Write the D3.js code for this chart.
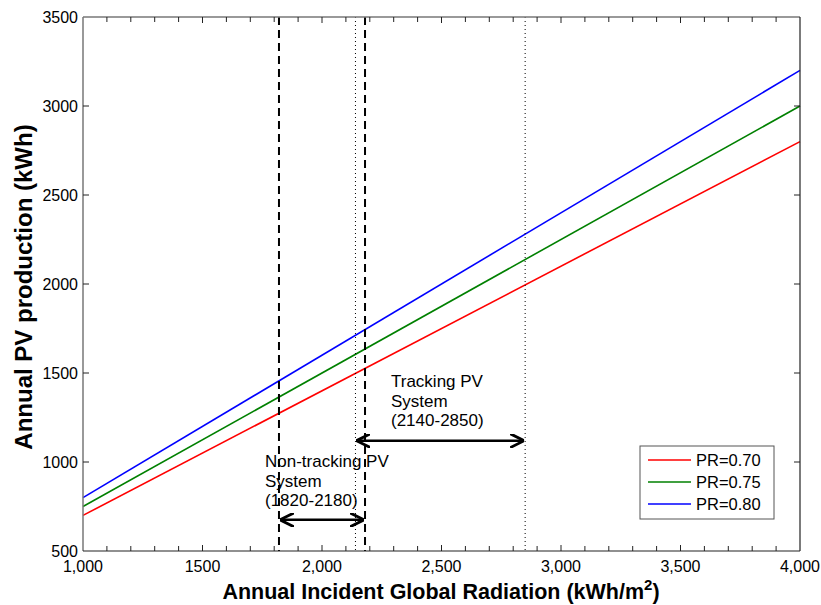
<!DOCTYPE html>
<html>
<head>
<meta charset="utf-8">
<script src="https://cdn.jsdelivr.net/npm/d3@7"></script>
<style>
  body { margin: 0; background: #fff; }
  svg { font-family: "Liberation Sans", Arial, sans-serif; }
</style>
</head>
<body>
<svg id="chart" width="821" height="605"></svg>
<script>
// Annual PV production vs. annual incident global radiation
const radiation = [1000, 4000];
const performanceRatios = [0.70, 0.75, 0.80];
const seriesLabels = ["PR=0.70", "PR=0.75", "PR=0.80"];
const seriesColors = ["#ff0000", "#008000", "#0000ff"];
const xTickValues = [1000, 1500, 2000, 2500, 3000, 3500, 4000];
const xTickLabels = ["1,000", "1500", "2,000", "2,500", "3,000", "3,500", "4,000"];
const yTickValues = [500, 1000, 1500, 2000, 2500, 3000, 3500];
const nonTrackingRange = [1820, 2180];
const trackingRange = [2140, 2850];
const nonTrackingText = ["Non-tracking PV", "System", "(1820-2180)"];
const trackingText = ["Tracking PV", "System", "(2140-2850)"];
const nonTrackingArrowY = 675;
const trackingArrowY = 1120;

const svg = d3.select("#chart");
const m = { left: 83, right: 800, top: 17, bottom: 551 };

const x = d3.scaleLinear().domain([1000, 4000]).range([m.left, m.right]);
const y = d3.scaleLinear().domain([500, 3500]).range([m.bottom, m.top]);

const defs = svg.append("defs");
defs.append("marker").attr("id", "arrow").attr("viewBox", "0 0 10 10")
  .attr("refX", 10).attr("refY", 5)
  .attr("markerUnits", "userSpaceOnUse").attr("orient", "auto-start-reverse")
  .attr("markerWidth", 14).attr("markerHeight", 14)
  .append("path").attr("d", "M0,0 L10,5 L0,10").attr("fill", "none")
  .attr("stroke", "#000").attr("stroke-width", 2);

// data lines
const line = d3.line().x(d => x(d[0])).y(d => y(d[1]));
performanceRatios.forEach((pr, i) => {
  svg.append("path")
    .datum(radiation.map(r => [r, r * pr]))
    .attr("d", line)
    .attr("fill", "none")
    .attr("stroke", seriesColors[i])
    .attr("stroke-width", 1.6);
});

// range boundaries
nonTrackingRange.forEach(v => {
  svg.append("line").attr("x1", x(v)).attr("x2", x(v)).attr("y1", m.top).attr("y2", m.bottom)
    .attr("stroke", "#000").attr("stroke-width", 2).attr("stroke-dasharray", "8,5");
});
trackingRange.forEach(v => {
  svg.append("line").attr("x1", x(v)).attr("x2", x(v)).attr("y1", m.top).attr("y2", m.bottom)
    .attr("stroke", "#000").attr("stroke-width", 1).attr("stroke-dasharray", "1,3");
});

// double-headed arrows
function arrow(range, yv) {
  svg.append("line")
    .attr("x1", x(range[0]) + 1).attr("x2", x(range[1]) - 1)
    .attr("y1", y(yv)).attr("y2", y(yv))
    .attr("stroke", "#000").attr("stroke-width", 2.5)
    .attr("marker-start", "url(#arrow)").attr("marker-end", "url(#arrow)");
}
arrow(nonTrackingRange, nonTrackingArrowY);
arrow(trackingRange, trackingArrowY);

// annotations
function block(lines, x0, y0) {
  const t = svg.append("text").attr("x", x0).attr("y", y0).attr("font-size", 17).attr("fill", "#000");
  lines.forEach((s, i) => t.append("tspan").attr("x", x0).attr("dy", i ? 19.5 : 0).text(s));
}
block(trackingText, 391, 387);
block(nonTrackingText, 265, 467);

// axes frame
svg.append("line").attr("x1", m.left).attr("x2", m.right).attr("y1", m.top).attr("y2", m.top).attr("stroke", "#777").attr("stroke-width", 1.5);
svg.append("line").attr("x1", m.left).attr("x2", m.left).attr("y1", m.top).attr("y2", m.bottom).attr("stroke", "#777").attr("stroke-width", 1.5);
svg.append("line").attr("x1", m.right).attr("x2", m.right).attr("y1", m.top).attr("y2", m.bottom).attr("stroke", "#222").attr("stroke-width", 1.2);
svg.append("line").attr("x1", m.left).attr("x2", m.right).attr("y1", m.bottom).attr("y2", m.bottom).attr("stroke", "#222").attr("stroke-width", 1.2);

const minor = d3.range(1100, 4000, 100);
minor.forEach(v => {
  const len = xTickValues.includes(v) ? 6 : 5;
  svg.append("line").attr("x1", x(v)).attr("x2", x(v)).attr("y1", m.bottom).attr("y2", m.bottom - len).attr("stroke", "#222");
  svg.append("line").attr("x1", x(v)).attr("x2", x(v)).attr("y1", m.top).attr("y2", m.top + len).attr("stroke", "#222");
});
yTickValues.slice(1, -1).forEach(v => {
  svg.append("line").attr("x1", m.left).attr("x2", m.left + 6).attr("y1", y(v)).attr("y2", y(v)).attr("stroke", "#222");
  svg.append("line").attr("x1", m.right).attr("x2", m.right - 6).attr("y1", y(v)).attr("y2", y(v)).attr("stroke", "#222");
});

// tick labels
xTickValues.forEach((v, i) => {
  svg.append("text").attr("x", x(v)).attr("y", 572).attr("text-anchor", "middle")
    .attr("font-size", 16).text(xTickLabels[i]);
});
yTickValues.forEach(v => {
  svg.append("text").attr("x", 78).attr("y", y(v) + 6).attr("text-anchor", "end")
    .attr("font-size", 16).text(v);
});

// axis titles
const xt = svg.append("text").attr("x", 441).attr("y", 599).attr("text-anchor", "middle")
  .attr("font-size", 21.5).attr("font-weight", "bold").text("Annual Incident Global Radiation (kWh/m");
xt.append("tspan").attr("font-size", 15).attr("dy", -9).text("2");
xt.append("tspan").attr("dy", 9).text(")");
svg.append("text").attr("transform", "translate(32,287) rotate(-90)").attr("text-anchor", "middle")
  .attr("font-size", 24).attr("font-weight", "bold").text("Annual PV production (kWh)");

// legend
const lg = svg.append("g");
lg.append("rect").attr("x", 640).attr("y", 446).attr("width", 134).attr("height", 73)
  .attr("fill", "#fff").attr("stroke", "#555").attr("stroke-width", 1);
seriesLabels.forEach((s, i) => {
  const yy = 460 + i * 22;
  lg.append("line").attr("x1", 648).attr("x2", 691).attr("y1", yy).attr("y2", yy)
    .attr("stroke", seriesColors[i]).attr("stroke-width", 1.6);
  lg.append("text").attr("x", 696).attr("y", yy + 6).attr("font-size", 16.5).text(s);
});
</script>
</body>
</html>
